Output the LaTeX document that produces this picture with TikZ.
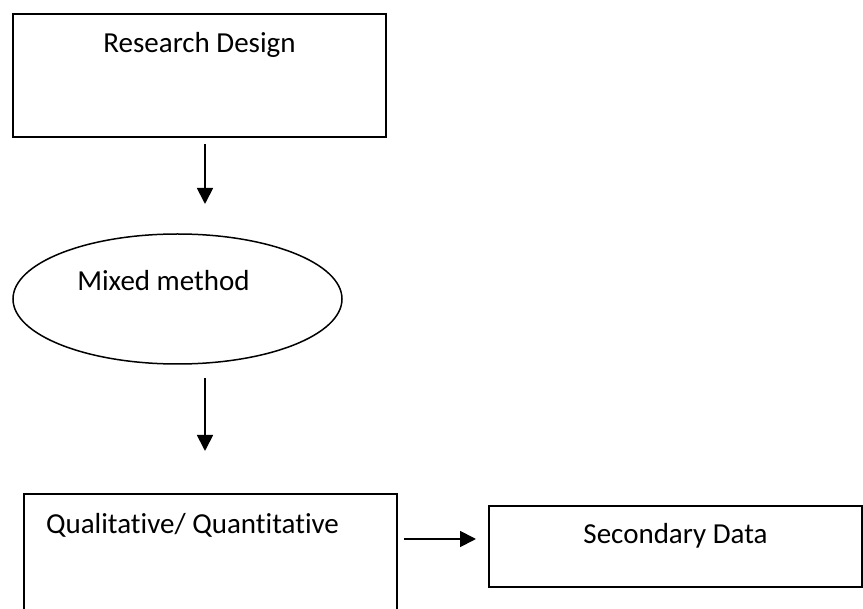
\documentclass[tikz,border=0pt]{standalone}
\usepackage{fontspec}
\setmainfont{Carlito}[Ligatures={CommonOff}]
\usetikzlibrary{arrows.meta,shapes.geometric}
\begin{document}
\begin{tikzpicture}[x=1pt,y=-1pt, line width=1.5pt,
  box/.style={draw, rectangle, inner sep=0pt},
  oval/.style={draw, ellipse, inner sep=0pt},
  lbl/.style={font=\fontsize{29}{34}\selectfont, inner sep=0pt, anchor=base},
  arr/.style={line width=1.8pt, -{Triangle[length=16pt,width=16pt]}}]
\useasboundingbox (0,0) rectangle (863,609);
\clip (0,0) rectangle (863,609);
% shapes
\node[box, minimum width=373pt, minimum height=123pt] (rd) at (199.5,75.5) {};
\node[oval, minimum width=329pt, minimum height=130pt] (mm) at (177.5,299) {};
\node[box, minimum width=373pt, minimum height=160pt] (qq) at (210.5,574) {};
\node[box, minimum width=373pt, minimum height=81pt] (sd) at (675.5,546.5) {};
% labels
\node[lbl] (rdt) at (199.5,53) {Research Design};
\node[lbl] (mmt) at (163.5,290.5) {Mixed method};
\node[lbl] (qqt) at (192.5,534) {Qualitative/ Quantitative};
\node[lbl] (sdt) at (675.5,544) {Secondary Data};
% connector ends
\coordinate (a1s) at (205,144);
\coordinate (a1e) at (205,204);
\coordinate (a2s) at (205,378);
\coordinate (a2e) at (205,451);
\coordinate (a3s) at (404,539);
\coordinate (a3e) at (476,539);
\draw[arr] (a1s) -- (a1e);
\draw[arr] (a2s) -- (a2e);
\draw[arr] (a3s) -- (a3e);
\end{tikzpicture}
\end{document}
